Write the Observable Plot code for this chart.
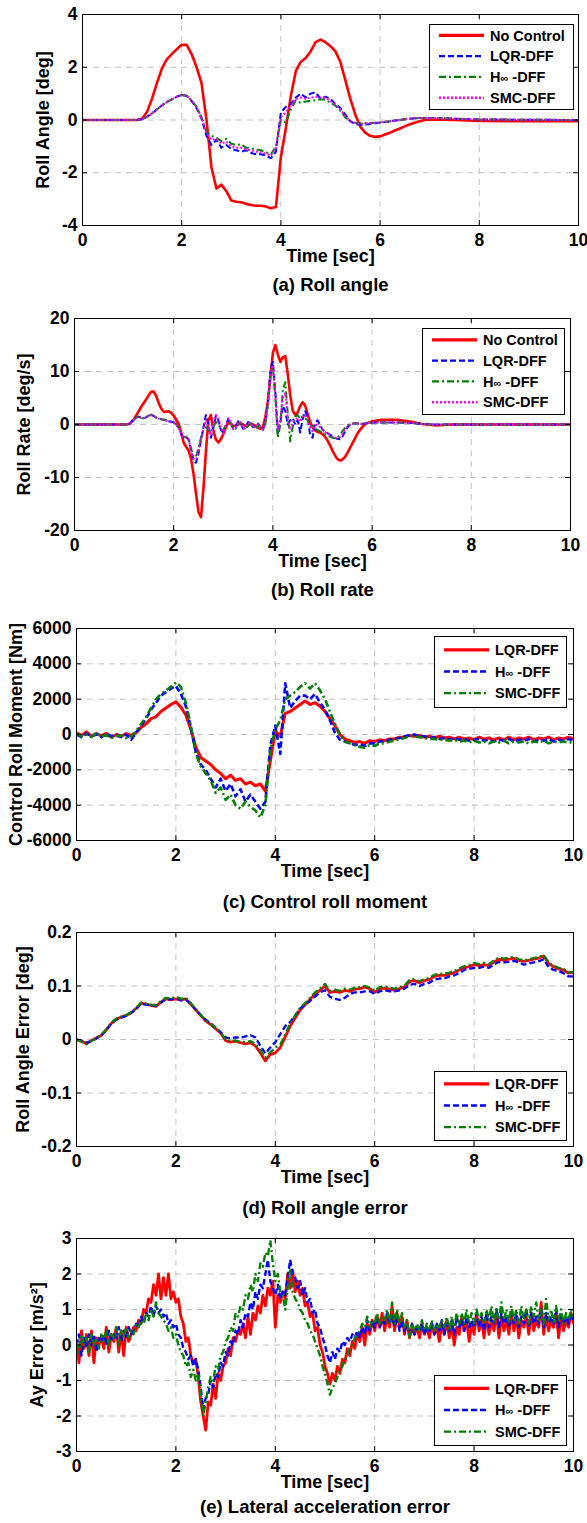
<!DOCTYPE html>
<html><head><meta charset="utf-8">
<script src="https://cdn.jsdelivr.net/npm/d3@7"></script>
<script src="https://cdn.jsdelivr.net/npm/@observablehq/plot@0.6"></script>
<style>
html,body{margin:0;padding:0;background:#fff;}
#root{position:relative;width:587px;height:1523px;overflow:hidden;background:#fff;}
#root svg{position:absolute;left:0;}
</style></head><body><div id="root"></div>
<script>
// ---------------- DATA ----------------
const xTicks = [0, 2, 4, 6, 8, 10];
const aYTicks = [-4, -2, 0, 2, 4];
const bYTicks = [-20, -10, 0, 10, 20];
const cYTicks = [-6000, -4000, -2000, 0, 2000, 4000, 6000];
const dYTicks = [-0.2, -0.1, 0, 0.1, 0.2];
const eYTicks = [-3, -2, -1, 0, 1, 2, 3];

// (a) Roll angle
const aTime = [0,
  1.0,1.1,1.2,1.3,1.4,1.5,1.6,1.7,1.8,1.9,
  2.0,2.1,2.2,2.3,2.4,2.5,2.6,2.7,2.8,2.9,
  3.0,3.1,3.2,3.3,3.4,3.5,3.6,3.7,3.8,3.9,
  4.0,4.1,4.2,4.3,4.4,4.5,4.6,4.7,4.8,4.9,
  5.0,5.1,5.2,5.3,5.4,5.5,5.6,5.7,5.8,5.9,
  6.0,6.1,6.2,6.3,6.4,6.5,6.6,6.7,6.8,6.9,
  7.0,7.5,8,9,10];
const aNoControl = [0,
  0,0,0.05,0.3,0.8,1.4,1.95,2.3,2.5,2.68,
  2.85,2.85,2.5,2.0,1.4,0.0,-1.8,-2.6,-2.45,-2.7,
  -3.05,-3.1,-3.12,-3.18,-3.22,-3.25,-3.25,-3.28,-3.35,-3.3,
  -1.4,-0.3,0.9,1.85,2.2,2.35,2.6,2.95,3.05,2.95,
  2.8,2.6,2.2,1.5,0.8,0.2,-0.25,-0.48,-0.6,-0.64,
  -0.62,-0.55,-0.48,-0.4,-0.32,-0.24,-0.16,-0.1,-0.05,0.0,
  0.02,0.0,-0.04,-0.05,-0.05];
const aLQR = [0,
  0,0,0.03,0.12,0.25,0.4,0.55,0.68,0.78,0.88,
  0.95,0.92,0.72,0.45,0.05,-0.6,-0.95,-0.75,-1.05,-0.95,
  -1.1,-1.15,-1.2,-1.15,-1.25,-1.3,-1.3,-1.35,-1.45,-1.2,
  0.3,0.5,0.6,0.85,1.0,0.85,1.0,1.05,0.8,0.88,
  0.8,0.6,0.45,0.2,-0.05,-0.15,-0.18,-0.17,-0.15,-0.12,
  -0.1,-0.08,-0.05,-0.02,0.0,0.03,0.05,0.07,0.08,0.08,
  0.08,0.05,0.02,0.01,0.0];
const aHinf = [0,
  0,0,0.03,0.12,0.25,0.4,0.55,0.68,0.78,0.88,
  0.95,0.92,0.75,0.5,0.1,-0.45,-0.6,-0.68,-0.8,-0.72,
  -0.9,-0.95,-0.92,-1.05,-1.08,-1.12,-1.15,-1.22,-1.3,-1.0,
  0.0,-0.1,0.4,0.75,0.65,0.7,0.72,0.75,0.78,0.78,
  0.65,0.55,0.35,0.1,-0.05,-0.1,-0.12,-0.12,-0.11,-0.1,
  -0.09,-0.07,-0.05,-0.02,0.0,0.03,0.05,0.07,0.08,0.08,
  0.08,0.05,0.02,0.01,0.0];
const aSMC = [0,
  0,0,0.03,0.12,0.25,0.4,0.55,0.68,0.78,0.88,
  0.95,0.92,0.74,0.48,0.08,-0.5,-0.75,-0.72,-0.9,-0.82,
  -1.0,-1.05,-1.05,-1.12,-1.15,-1.2,-1.22,-1.28,-1.35,-1.05,
  0.1,0.3,0.55,0.8,0.85,0.8,0.85,0.88,0.85,0.85,
  0.72,0.58,0.4,0.15,-0.05,-0.12,-0.14,-0.13,-0.12,-0.1,
  -0.09,-0.07,-0.05,-0.02,0.0,0.03,0.05,0.07,0.08,0.08,
  0.08,0.05,0.02,0.01,0.0];

// (b) Roll rate : t = 0, 1.00..6.00 every 0.05, then tail
const bTime = [0].concat(d3.range(100, 601, 5).map(v => v / 100), [6.2, 6.5, 6.8, 7.0, 7.3, 7.6, 8, 10]);
const bNoControl = [0,
  0,0,0.1,0.5,1.0,1.8,2.6,3.4,4.1,4.8,5.6,6.2,6.2,5.3,4.0,3.0,2.4,2.4,2.5,2.2,
  1.7,0.9,0.1,-1.5,-3.4,-4.2,-4.9,-6.5,-9.3,-13,-16.5,-17.5,-12,-5,0.8,1.8,-1.2,-2.8,-3.4,-2.8,
  -1.8,-0.6,0.4,0.2,-0.3,-0.2,0.0,0.2,0.0,-0.3,-0.2,0.1,0.0,-0.3,-0.6,-0.8,-0.5,1.5,4.5,8.9,
  13.5,15.0,13.2,11.8,12.7,12.9,9.5,5.5,2.6,1.8,2.3,3.5,4.2,3.6,2.0,0.5,-0.5,-1.1,-1.4,-1.5,
  -1.8,-2.3,-3.0,-3.9,-4.9,-5.8,-6.5,-6.8,-6.6,-6.2,-5.4,-4.5,-3.6,-2.7,-1.8,-1.1,-0.5,0.0,0.25,0.45,
  0.6,
  0.9,0.9,0.5,0.1,-0.2,0.0,0,0];
const bLQR = [0,
  0,0,0.1,0.5,1.0,1.4,1.5,1.3,1.2,1.4,1.7,1.8,1.6,1.3,1.1,1.0,0.9,0.8,0.6,0.5,
  0.4,0.0,-0.6,-1.8,-2.6,-2.4,-2.8,-5.0,-6.8,-7.2,-5.5,-3.0,-0.5,1.8,0.0,-2.5,-0.5,1.6,0.8,-1.0,
  -1.6,0.0,1.0,0.2,-0.8,-0.3,0.6,0.2,-0.8,-0.5,0.5,0.3,-0.5,-0.3,0.2,-0.5,-1.0,0.5,4.0,10.5,
  11.8,6.0,-1.8,0.5,3.5,2.5,0.0,0.8,1.2,0.0,0.8,-1.5,1.0,2.5,1.5,-2.0,-2.5,0.3,0.8,0.0,
  -1.0,-1.3,-1.6,-1.9,-2.2,-2.5,-2.7,-2.8,-2.3,-1.4,-0.6,-0.1,0.1,0.2,0.2,0.1,0.1,0.2,0.3,0.3,
  0.35,
  0.4,0.4,0.3,0.1,0,0,0,0];
const bHinf = [0,
  0,0,0.1,0.5,1.0,1.3,1.4,1.2,1.2,1.4,1.7,1.8,1.6,1.3,1.1,1.0,0.9,0.8,0.6,0.5,
  0.4,0.1,-0.5,-1.6,-2.4,-2.3,-2.7,-4.5,-6.2,-6.0,-4.5,-2.5,-1.0,-0.5,-1.0,-1.5,-0.5,0.5,0.0,-0.8,
  -1.2,0.0,0.8,0.3,-0.6,-0.8,0.2,0.4,-0.6,-1.0,-0.2,0.3,-0.4,-0.8,-0.2,-0.6,-1.0,0.3,4.0,9.5,
  10.8,5.0,-2.5,0.0,6.5,8.0,2.0,-3.2,-0.5,1.5,1.8,1.0,1.5,1.2,0.8,0.2,-0.3,-0.8,-1.0,-1.3,
  -1.5,-1.8,-2.1,-2.3,-2.5,-2.6,-2.5,-2.0,-1.3,-0.7,-0.2,0.1,0.2,0.25,0.2,0.15,0.15,0.2,0.3,0.3,
  0.35,
  0.4,0.4,0.3,0.1,0,0,0,0];
const bSMC = [0,
  0,0,0.1,0.5,1.0,1.3,1.4,1.2,1.2,1.4,1.7,1.9,1.6,1.3,1.1,1.0,0.9,0.7,0.6,0.5,
  0.4,0.0,-0.6,-1.7,-2.5,-2.4,-2.8,-4.8,-6.5,-6.6,-5.0,-2.8,-0.8,0.8,-0.5,-2.0,0.0,1.8,1.2,-0.6,
  -1.8,-0.3,1.2,0.5,-0.8,-0.6,0.5,0.4,-0.7,-0.7,0.3,0.3,-0.5,-0.5,0.1,-0.5,-1.0,0.4,4.0,10.0,
  11.2,5.5,-1.0,1.0,5.0,6.0,1.0,-1.0,0.5,1.0,1.2,0.5,1.5,1.8,1.0,-0.5,-1.2,-0.2,0.0,-0.5,
  -1.0,-1.4,-1.7,-2.0,-2.3,-2.5,-2.6,-2.4,-1.8,-1.0,-0.4,0.0,0.15,0.2,0.2,0.15,0.1,0.2,0.3,0.3,
  0.35,
  0.4,0.4,0.3,0.1,0,0,0,0];

// (c) Control roll moment, every 0.1 s
const cLQR = [
  100,-50,150,-100,50,-80,60,-150,0,-100,
  50,-50,100,400,600,900,1000,1300,1500,1700,
  1850,1550,1100,300,-700,-1300,-1500,-1700,-2000,-2200,
  -2500,-2300,-2600,-2500,-2800,-2700,-2900,-2800,-3200,-1500,
  200,-100,1200,1300,1500,1700,1900,1700,1800,1600,
  1300,900,500,0,-250,-350,-450,-400,-500,-350,
  -400,-300,-350,-250,-250,-150,-150,-50,-100,-50,
  -150,-100,-200,-100,-200,-150,-250,-150,-250,-200,
  -300,-150,-250,-200,-300,-200,-300,-150,-300,-200,
  -250,-150,-300,-200,-250,-150,-300,-200,-250,-150,
  -250];
const cHinf = [
  0,-150,50,-100,0,-150,50,-100,-50,-150,
  0,-300,100,500,900,1400,1800,2200,2400,2600,
  2750,2300,1600,400,-1000,-1700,-2000,-2500,-3000,-2500,
  -3200,-2800,-3500,-3100,-3800,-3400,-3800,-4200,-3800,-600,
  500,-1100,2900,1500,1900,2200,2200,2000,2300,1800,
  1400,800,100,-300,-400,-500,-600,-550,-650,-500,
  -500,-400,-400,-300,-250,-200,-100,-50,0,-100,
  -100,-200,-150,-250,-200,-300,-200,-300,-250,-350,
  -300,-250,-350,-300,-400,-300,-350,-250,-400,-300,
  -350,-250,-400,-300,-350,-250,-400,-300,-350,-250,
  -350];
const cSMC = [
  50,-100,0,-150,100,-100,-50,-200,-100,-50,
  -200,-100,200,600,1000,1500,2000,2300,2500,2700,
  2950,2700,1800,500,-1100,-1800,-2200,-2600,-3300,-3000,
  -3700,-3400,-4000,-4200,-3800,-4100,-4300,-4700,-4000,-900,
  300,800,2000,2200,2400,2700,2900,2600,2900,2500,
  2000,1300,600,0,-400,-500,-600,-700,-750,-600,
  -650,-500,-500,-400,-350,-250,-200,-100,-100,-150,
  -200,-250,-250,-300,-300,-350,-300,-400,-350,-450,
  -350,-450,-400,-500,-400,-450,-350,-500,-400,-450,
  -400,-500,-400,-450,-350,-500,-400,-450,-400,-450,
  -450];

// (d) Roll angle error, every 0.1 s
const dLQR = [
  0.000,-0.003,-0.008,-0.002,0.003,0.008,0.018,0.030,0.038,0.042,
  0.045,0.050,0.058,0.068,0.066,0.064,0.062,0.070,0.076,0.074,
  0.076,0.074,0.076,0.066,0.055,0.045,0.035,0.028,0.020,0.012,
  -0.002,-0.005,-0.003,-0.006,-0.008,-0.006,-0.012,-0.025,-0.040,-0.028,
  -0.025,-0.015,0.005,0.025,0.040,0.055,0.065,0.075,0.085,0.092,
  0.100,0.088,0.090,0.088,0.092,0.090,0.094,0.095,0.098,0.095,
  0.088,0.095,0.096,0.094,0.092,0.095,0.098,0.108,0.110,0.106,
  0.110,0.112,0.118,0.120,0.120,0.122,0.125,0.130,0.134,0.136,
  0.140,0.138,0.140,0.138,0.145,0.150,0.148,0.150,0.152,0.148,
  0.146,0.148,0.150,0.152,0.156,0.142,0.136,0.132,0.130,0.124,
  0.125];
const dHinf = [
  0.000,-0.002,-0.006,-0.003,0.002,0.008,0.017,0.030,0.037,0.041,
  0.044,0.050,0.057,0.067,0.065,0.064,0.063,0.069,0.075,0.075,
  0.077,0.073,0.075,0.066,0.056,0.046,0.037,0.030,0.022,0.014,
  0.004,0.002,0.004,0.003,0.006,0.008,0.004,-0.012,-0.026,-0.015,
  -0.005,0.010,0.025,0.033,0.045,0.058,0.065,0.072,0.080,0.088,
  0.092,0.080,0.076,0.074,0.078,0.085,0.088,0.088,0.090,0.090,
  0.085,0.090,0.092,0.090,0.090,0.092,0.095,0.102,0.104,0.100,
  0.104,0.106,0.112,0.114,0.114,0.118,0.120,0.124,0.130,0.132,
  0.134,0.134,0.136,0.134,0.140,0.145,0.144,0.145,0.147,0.144,
  0.140,0.142,0.144,0.146,0.150,0.135,0.130,0.128,0.124,0.118,
  0.118];
const dSMC = [
  0.000,-0.004,-0.009,-0.003,0.002,0.009,0.019,0.031,0.039,0.043,
  0.046,0.051,0.059,0.069,0.067,0.065,0.064,0.072,0.078,0.077,
  0.080,0.076,0.078,0.068,0.057,0.046,0.036,0.029,0.021,0.013,
  0.000,-0.003,-0.002,-0.004,-0.005,-0.003,-0.008,-0.020,-0.034,-0.024,
  -0.015,-0.010,0.010,0.030,0.045,0.060,0.068,0.078,0.088,0.095,
  0.104,0.091,0.093,0.091,0.095,0.093,0.097,0.098,0.100,0.097,
  0.091,0.098,0.099,0.097,0.095,0.098,0.101,0.111,0.113,0.109,
  0.113,0.115,0.121,0.123,0.123,0.125,0.128,0.133,0.137,0.139,
  0.143,0.141,0.143,0.141,0.148,0.153,0.151,0.153,0.154,0.150,
  0.148,0.150,0.152,0.154,0.158,0.144,0.138,0.134,0.132,0.126,
  0.126];

// (e) Lateral acceleration error, every 0.05 s
const eLQR = [
  0.1,-0.5,0.4,-0.1,0.3,-0.3,0.4,-0.5,0.2,0.0,0.2,-0.1,0.5,-0.2,0.3,0.1,0.5,-0.2,0.4,-0.3,
  0.5,0.1,0.3,0.5,0.4,0.7,0.6,1.0,0.9,1.3,1.2,1.7,1.4,2.0,1.3,1.9,1.4,2.0,1.3,1.5,
  1.2,1.3,0.8,0.6,0.1,0.2,-0.3,-0.5,-0.4,-0.9,-1.6,-2.0,-2.4,-1.6,-1.7,-1.1,-1.5,-0.8,-1.0,-0.6,
  -0.5,-0.1,-0.3,0.2,0.1,0.4,0.3,0.6,0.2,0.8,0.3,0.9,0.7,1.1,0.9,1.4,1.1,1.6,1.4,1.8,
  0.5,1.4,1.2,1.5,1.3,2.0,1.6,2.1,1.5,1.8,1.4,1.6,1.1,1.2,0.8,0.9,0.4,0.5,0.0,-0.2,
  -0.6,-0.8,-1.1,-0.8,-1.0,-0.6,-0.8,-0.4,-0.5,-0.1,-0.3,0.1,-0.1,0.3,0.1,0.5,0.0,0.6,0.3,0.7,
  0.4,0.8,0.5,0.9,0.4,0.8,0.5,1.1,0.4,0.9,0.5,0.8,0.3,0.7,0.2,0.5,0.3,0.5,0.2,0.6,
  0.3,0.5,0.2,0.6,0.3,0.5,0.1,0.6,0.3,0.7,0.2,0.6,0.0,0.5,0.3,0.8,0.4,0.7,0.1,0.6,
  0.3,0.9,0.4,0.7,0.2,0.8,0.3,0.7,0.4,0.9,0.2,0.8,0.4,0.7,0.3,0.9,0.4,0.8,0.2,0.7,
  0.5,0.8,0.3,0.9,0.4,0.7,0.5,1.2,0.3,0.8,0.4,0.7,0.5,0.9,0.2,0.8,0.4,0.7,0.5,0.9,
  0.6];
const eHinf = [
  0.0,0.3,-0.3,0.2,-0.1,0.3,0.0,0.3,-0.2,0.2,0.1,0.3,0.0,0.4,0.1,0.3,0.2,0.5,0.1,0.4,
  0.2,0.5,0.3,0.4,0.6,0.5,0.8,0.6,0.9,0.8,1.1,0.8,1.1,0.9,1.0,0.8,0.9,0.6,0.7,0.5,
  0.6,0.3,0.2,-0.1,-0.2,-0.4,-0.3,-0.6,-0.4,-0.7,-1.2,-1.8,-1.5,-1.4,-1.0,-1.2,-0.8,-0.9,-0.5,-0.6,
  -0.2,-0.3,0.1,0.0,0.4,0.3,0.7,0.5,0.9,0.8,1.2,1.0,1.5,1.3,1.7,1.6,2.0,2.4,1.8,1.6,
  1.4,1.7,1.3,1.5,1.4,1.9,2.4,2.0,1.9,1.6,1.8,1.4,1.6,1.2,1.3,0.9,1.0,0.6,0.5,0.2,
  0.0,-0.3,-0.5,-0.2,-0.4,-0.1,-0.2,0.1,0.0,0.2,0.1,0.3,0.2,0.4,0.2,0.5,0.3,0.7,0.4,0.7,
  0.5,0.8,0.5,0.7,0.6,0.9,0.6,0.8,0.5,0.8,0.4,0.7,0.4,0.6,0.3,0.6,0.3,0.5,0.4,0.6,
  0.3,0.5,0.4,0.6,0.3,0.6,0.4,0.7,0.3,0.6,0.4,0.7,0.3,0.8,0.5,0.7,0.4,0.8,0.5,0.7,
  0.5,0.9,0.5,0.8,0.4,0.9,0.5,0.8,0.6,1.0,0.5,0.9,0.6,0.8,0.5,1.0,0.6,0.9,0.5,0.8,
  0.6,1.0,0.5,0.9,0.6,0.8,0.6,1.0,0.5,0.9,0.6,0.8,0.6,1.0,0.5,0.9,0.6,0.8,0.6,0.9,
  0.7];
const eSMC = [
  0.1,-0.2,0.3,0.0,0.2,-0.2,0.3,0.0,0.2,-0.1,0.3,0.1,0.4,0.0,0.3,0.2,0.5,0.0,0.4,0.2,
  0.5,0.2,0.4,0.3,0.6,0.5,0.7,0.6,0.9,0.7,1.0,0.8,1.2,0.9,0.8,0.7,0.6,0.4,0.5,0.2,
  0.3,0.0,-0.2,-0.3,-0.6,-0.5,-0.9,-0.7,-1.0,-0.8,-1.4,-2.0,-1.6,-1.2,-0.9,-1.0,-0.6,-0.7,-0.3,-0.2,
  0.1,0.2,0.5,0.4,0.9,0.8,1.1,1.0,1.4,1.3,1.7,1.5,2.0,1.8,2.3,2.2,2.6,2.5,2.95,2.3,
  1.8,2.0,1.5,1.4,1.0,1.6,2.1,1.5,1.3,1.2,1.0,0.9,0.7,0.6,0.4,0.3,0.1,-0.1,-0.3,-0.6,
  -0.8,-1.1,-1.4,-1.2,-1.1,-0.9,-0.7,-0.6,-0.4,-0.3,-0.1,0.0,0.2,0.3,0.4,0.6,0.5,0.8,0.5,0.7,
  0.6,0.9,0.6,0.8,0.7,1.0,0.6,1.2,0.6,1.0,0.6,0.9,0.5,0.7,0.2,0.6,0.4,0.6,0.4,0.7,
  0.4,0.6,0.4,0.7,0.4,0.6,0.5,0.7,0.5,0.8,0.4,0.8,0.5,0.9,0.6,0.9,0.6,1.0,0.6,0.9,
  0.6,1.0,0.7,0.9,0.6,1.0,0.7,1.1,0.6,1.0,0.7,1.2,0.7,1.0,0.6,1.1,0.7,1.0,0.6,1.1,
  0.7,1.0,0.6,1.1,0.8,1.2,0.7,1.0,0.6,1.3,0.7,1.0,0.6,1.1,0.7,1.0,0.6,0.9,0.7,1.0,
  0.8];

const legendA = ["No Control", "LQR-DFF", "H∞-DFF", "SMC-DFF"];
const legendC = ["LQR-DFF", "H∞-DFF", "SMC-DFF"];

// ---------------- STYLES ----------------
const FONT = "'Liberation Sans', Arial, Helvetica, sans-serif";
const RED = "#ff0000", BLUE = "#0000ff", GREEN = "#008000", MAG = "#ff00ff";
const S_SOLID = (c, w = 2.6) => ({stroke: c, strokeWidth: w, dash: null});
const S_DASH = (c, w = 2) => ({stroke: c, strokeWidth: w, dash: "6,3"});
const S_DASHDOT = (c, w = 2) => ({stroke: c, strokeWidth: w, dash: "7,3,2,3"});
const S_DOT = (c, w = 2) => ({stroke: c, strokeWidth: w, dash: "2,2"});

const uniform = (arr) => arr.map((_, i) => i * 10 / (arr.length - 1));

const panels = [
  {top: 0, height: 300, mt: 14, mb: 75, ml: 82, mr: 9, domain: [-4, 4], yTicks: aYTicks,
   yLabel: "Roll Angle [deg]", yDx: -39, caption: "(a) Roll angle", capDy: 65,
   series: [[aTime, aNoControl, S_SOLID(RED)], [aTime, aLQR, S_DASH(BLUE)], [aTime, aHinf, S_DASHDOT(GREEN)], [aTime, aSMC, S_DOT(MAG)]],
   legend: {x: 429, y: 24, w: 144, h: 85, names: legendA, styles: [S_SOLID(RED), S_DASH(BLUE), S_DASHDOT(GREEN), S_DOT(MAG)]}},
  {top: 300, height: 310, mt: 18, mb: 80, ml: 74, mr: 17, domain: [-20, 20], yTicks: bYTicks,
   yLabel: "Roll Rate [deg/s]", yDx: -50, caption: "(b) Roll rate", capDy: 65,
   series: [[bTime, bNoControl, S_SOLID(RED)], [bTime, bLQR, S_DASH(BLUE)], [bTime, bHinf, S_DASHDOT(GREEN)], [bTime, bSMC, S_DOT(MAG)]],
   legend: {x: 422, y: 28, w: 142, h: 86, names: legendA, styles: [S_SOLID(RED), S_DASH(BLUE), S_DASHDOT(GREEN), S_DOT(MAG)]}},
  {top: 610, height: 310, mt: 18, mb: 80, ml: 76, mr: 14, domain: [-6000, 6000], yTicks: cYTicks,
   yLabel: "Control Roll Moment [Nm]", yDx: -60, caption: "(c) Control roll moment", capDy: 67,
   series: [[uniform(cLQR), cLQR, S_SOLID(RED, 3)], [uniform(cHinf), cHinf, S_DASH(BLUE, 2.6)], [uniform(cSMC), cSMC, S_DASHDOT(GREEN, 2.6)]],
   legend: {x: 434, y: 26, w: 132, h: 71, names: legendC, styles: [S_SOLID(RED), S_DASH(BLUE), S_DASHDOT(GREEN)]}},
  {top: 920, height: 305, mt: 12, mb: 79, ml: 76, mr: 14, domain: [-0.2, 0.2], yTicks: dYTicks,
   yLabel: "Roll Angle Error [deg]", yDx: -53, caption: "(d) Roll angle error", capDy: 67,
   series: [[uniform(dLQR), dLQR, S_SOLID(RED, 2.8)], [uniform(dHinf), dHinf, S_DASH(BLUE, 2.3)], [uniform(dSMC), dSMC, S_DASHDOT(GREEN, 2.3)]],
   legend: {x: 434, y: 151, w: 132, h: 69, names: legendC, styles: [S_SOLID(RED), S_DASH(BLUE), S_DASHDOT(GREEN)]}},
  {top: 1225, height: 298, mt: 13, mb: 72, ml: 76, mr: 14, domain: [-3, 3], yTicks: eYTicks,
   yLabel: "Ay Error [m/s²]", yDx: -39, caption: "(e) Lateral acceleration error", capDy: 61,
   series: [[uniform(eLQR), eLQR, S_SOLID(RED, 2.8)], [uniform(eHinf), eHinf, S_DASH(BLUE, 2.4)], [uniform(eSMC), eSMC, S_DASHDOT(GREEN, 2.4)]],
   legend: {x: 434, y: 150, w: 132, h: 70, names: legendC, styles: [S_SOLID(RED), S_DASH(BLUE), S_DASHDOT(GREEN)]}}
];

const root = document.getElementById("root");
const fmt = d => String(Math.round(d * 1000) / 1000);

for (const p of panels) {
  const W = 587;
  const fh = p.height - p.mt - p.mb;
  const fw = W - p.ml - p.mr;
  const yInner = p.yTicks.slice(1, -1);
  const xInner = xTicks.slice(1, -1);
  const lineMarks = p.series.map(([t, v, s]) => {
    const n = Math.min(t.length, v.length);
    const pts = d3.range(n).map(i => [t[i], v[i]]);
    return Plot.line(pts, {x: d => d[0], y: d => d[1], stroke: s.stroke, strokeWidth: s.strokeWidth,
      strokeDasharray: s.dash || undefined, strokeLinejoin: "round", strokeLinecap: s.dash ? "butt" : "round", clip: true});
  });
  const svg = Plot.plot({
    width: W, height: p.height,
    marginTop: p.mt, marginBottom: p.mb, marginLeft: p.ml, marginRight: p.mr,
    style: {fontFamily: FONT, fontWeight: "bold", background: "white", color: "black"},
    x: {domain: [0, 10]},
    y: {domain: p.domain},
    marks: [
      Plot.ruleX(xInner, {x: d => d, stroke: "#c4c4c4", strokeWidth: 1, strokeDasharray: "6,5"}),
      Plot.ruleY(yInner, {y: d => d, stroke: "#c4c4c4", strokeWidth: 1, strokeDasharray: "6,5"}),
      ...lineMarks,
      Plot.ruleX(xTicks, {x: d => d, stroke: "black", insetTop: fh - 5}),
      Plot.ruleX(xTicks, {x: d => d, stroke: "black", insetBottom: fh - 5}),
      Plot.ruleY(p.yTicks, {y: d => d, stroke: "black", insetRight: fw - 5}),
      Plot.ruleY(p.yTicks, {y: d => d, stroke: "black", insetLeft: fw - 5}),
      Plot.frame({stroke: "black", strokeWidth: 1}),
      Plot.axisX(xTicks, {tickSize: 0, tickPadding: 8, fontSize: 17.5, fontWeight: "bold", label: null, tickFormat: fmt}),
      Plot.axisY(p.yTicks, {tickSize: 0, tickPadding: 5, fontSize: 17.5, fontWeight: "bold", label: null, tickFormat: fmt}),
      Plot.text(["Time [sec]"], {text: d => d, frameAnchor: "bottom", textAnchor: "middle", dy: 36, fontSize: 18, fontWeight: "bold", fill: "black"}),
      Plot.text([p.caption], {text: d => d, frameAnchor: "bottom", textAnchor: "middle", dy: p.capDy, fontSize: 18.5, fontWeight: "bold", fill: "black"}),
      Plot.text([p.yLabel], {text: d => d, frameAnchor: "left", textAnchor: "middle", lineAnchor: "middle", dx: p.yDx, rotate: -90, fontSize: 18, fontWeight: "bold", fill: "black"})
    ]
  });
  svg.style.top = p.top + "px";
  // legend box
  const L = p.legend;
  const g = d3.select(svg).append("g")
    .attr("font-family", FONT).attr("font-weight", "bold").attr("font-size", 14.5)
    .attr("fill", "black").attr("text-anchor", "start");
  g.append("rect").attr("x", L.x + 0.5).attr("y", L.y + 0.5).attr("width", L.w).attr("height", L.h)
    .attr("fill", "white").attr("stroke", "black").attr("stroke-width", 1);
  const n = L.names.length;
  const sp = n === 4 ? 20.8 : 21.6;
  L.names.forEach((name, i) => {
    const yy = L.y + L.h / 2 + (i - (n - 1) / 2) * sp;
    const s = L.styles[i];
    g.append("line").attr("x1", L.x + 10).attr("x2", L.x + 55).attr("y1", yy).attr("y2", yy)
      .attr("stroke", s.stroke).attr("stroke-width", s.strokeWidth + (s.dash ? 0.4 : 0.6))
      .attr("stroke-dasharray", s.dash || null);
    const t = g.append("text").attr("x", L.x + 61).attr("y", yy).attr("dy", "0.36em").attr("text-anchor", "start");
    if (name.startsWith("H∞")) {
      t.append("tspan").text("H");
      t.append("tspan").attr("font-size", 11).text("∞");
      t.append("tspan").text(" " + name.slice(2));
    } else {
      t.text(name);
    }
  });
  root.appendChild(svg);
}
</script>
</body></html>
